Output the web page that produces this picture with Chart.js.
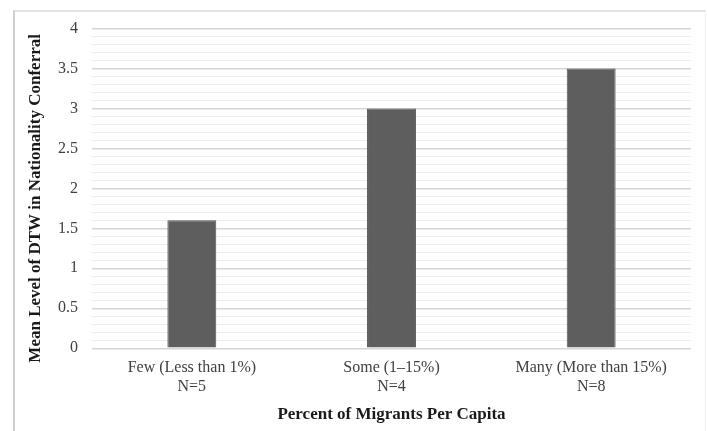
<!DOCTYPE html>
<html>
<head>
<meta charset="utf-8">
<script src="https://cdn.jsdelivr.net/npm/chart.js@4"></script>
<style>
  html, body { margin: 0; padding: 0; background: #fff; }
  #wrap { position: relative; width: 707px; height: 431px; overflow: hidden; }
  #frame { position: absolute; left: 13px; top: 10px; width: 690px; height: 440px;
           border-left: 2px solid #cfcfcf; border-top: 2px solid #e3e3e3; border-right: 1px solid #f2f2f2; }
  #c { position: absolute; left: 0; top: 0; }
</style>
</head>
<body>
<div id="wrap">
  <div id="frame"></div>
  <canvas id="c" width="707" height="431"></canvas>
</div>
<script>
const categories = [["Few (Less than 1%)", "N=5"], ["Some (1\u201315%)", "N=4"], ["Many (More than 15%)", "N=8"]];
const meanValues = [1.6, 3.0, 3.5];
const yMin = 0, yMax = 4, yMinorStep = 0.1;
const xTitle = "Percent of Migrants Per Capita";
const yTitle = "Mean Level of DTW in Nationality Conferral";

const serif = "'Liberation Serif', 'Times New Roman', serif";

// Y-axis title drawn as canvas text, centred slightly below the axis centre (as in the reference)
const yTitlePlugin = {
  id: 'yTitle',
  afterDraw(chart) {
    const { ctx, chartArea } = chart;
    const cy = (chartArea.top + chartArea.bottom) / 2 + 10;
    ctx.save();
    ctx.translate(36, cy);
    ctx.rotate(-Math.PI / 2);
    ctx.font = "bold 17px " + serif;
    ctx.fillStyle = '#1a1a1a';
    ctx.textAlign = 'center';
    ctx.textBaseline = 'middle';
    ctx.fillText(yTitle, 0, 0);
    ctx.restore();
  }
};

new Chart(document.getElementById('c'), {
  type: 'bar',
  data: {
    labels: categories,
    datasets: [{
      data: meanValues,
      backgroundColor: '#5e5e5e',
      borderColor: '#555555',
      borderWidth: 1,
      barPercentage: 0.245,
      categoryPercentage: 1.0
    }]
  },
  plugins: [yTitlePlugin],
  options: {
    responsive: false,
    animation: false,
    devicePixelRatio: 1,
    layout: { padding: { left: 26, right: 16, top: 28.5, bottom: 6 } },
    plugins: { legend: { display: false }, tooltip: { enabled: false } },
    scales: {
      x: {
        grid: { display: false, drawTicks: false },
        border: { display: false },
        ticks: { color: '#404040', font: { family: serif, size: 16, lineHeight: 1.2 }, padding: 10, maxRotation: 0, autoSkip: false },
        title: { display: true, text: xTitle, color: '#1a1a1a', font: { family: serif, size: 17, weight: 'bold' }, padding: { top: -2, bottom: 0 } }
      },
      y: {
        min: yMin, max: yMax,
        afterFit: (s) => { s.width = 66; },
        grid: {
          drawTicks: false,
          color: (ctx) => {
            const v = Math.round(ctx.tick.value * 10);
            return v % 5 === 0 ? '#d6d6d6' : '#eeeeee';
          },
          lineWidth: (ctx) => {
            const v = Math.round(ctx.tick.value * 10);
            return v % 5 === 0 ? 1.4 : 1;
          }
        },
        border: { display: false },
        ticks: {
          stepSize: yMinorStep,
          maxTicksLimit: 100,
          autoSkip: false,
          padding: 14,
          color: '#404040',
          font: { family: serif, size: 16 },
          callback: (v) => {
            const t = Math.round(v * 10);
            return t % 5 === 0 ? String(t / 10) : '';
          }
        },
        title: { display: false }
      }
    }
  }
});
</script>
</body>
</html>
